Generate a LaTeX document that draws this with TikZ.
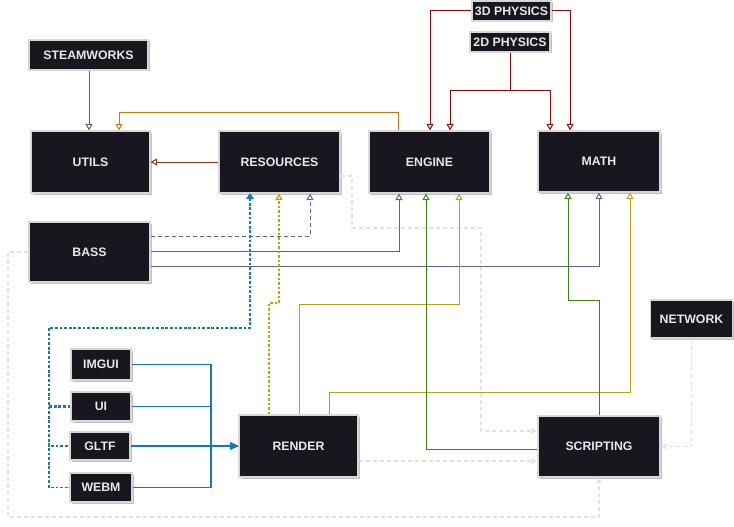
\documentclass[tikz,border=0pt]{standalone}
\usepackage{fontspec}
\setmainfont{Liberation Sans}
\usetikzlibrary{arrows.meta,shadows}
\definecolor{nodefill}{RGB}{24,22,30}
\definecolor{nodetext}{RGB}{232,232,232}
\definecolor{nodeedge}{RGB}{215,215,215}
\definecolor{cSteam}{RGB}{75,112,62}
\definecolor{cOrange}{RGB}{200,120,20}
\definecolor{cBrown}{RGB}{140,55,25}
\definecolor{cRed}{RGB}{140,12,12}
\definecolor{cPurple}{RGB}{100,95,150}
\definecolor{cYellow}{RGB}{190,160,20}
\definecolor{cGreen}{RGB}{60,130,12}
\definecolor{cBlue}{RGB}{20,120,185}
\definecolor{cGrey}{RGB}{226,226,226}
\tikzset{
  box/.style={draw=nodeedge, line width=1.2pt, fill=nodefill, text=nodetext,
    font=\bfseries\fontsize{12.3}{14}\selectfont, inner sep=0pt,
    drop shadow={shadow xshift=1.5pt, shadow yshift=-1.5pt, fill=gray!80, opacity=0.6}},
  conn/.style={line width=1pt, -{Triangle[open, length=6.5pt, width=7pt]}},
  bluesolid/.style={line width=1.3pt, draw=cBlue, -{Triangle[length=8pt, width=7pt, fill=cBlue]}},
  bluedash/.style={line width=2.2pt, draw=cBlue, dash pattern=on 2.8pt off 1.8pt, {Triangle[length=5pt, width=7pt, fill=cBlue]}-},
  greydash/.style={line width=1.2pt, draw=cGrey, dash pattern=on 4pt off 3pt, -{Stealth[length=7pt, width=6pt]}}
}
\begin{document}
\begin{tikzpicture}[x=1pt,y=-1pt]
\fill[white] (0,0) rectangle (734,527);
\useasboundingbox (0,0) rectangle (734,527);

% nodes
\node[box, minimum width=119pt, minimum height=30pt] (steam) at (88.5,55) {STEAMWORKS};
\node[box, minimum width=119pt, minimum height=62pt] (utils) at (90.5,162) {UTILS};
\node[box, minimum width=121pt, minimum height=62pt] (res) at (279.5,162) {RESOURCES};
\node[box, minimum width=121pt, minimum height=62pt] (engine) at (429.5,162) {ENGINE};
\node[box, minimum width=122pt, minimum height=61pt] (math) at (599,161.5) {MATH};
\node[box, minimum width=79pt, minimum height=20pt] (p3d) at (511.5,11) {3D PHYSICS};
\node[box, minimum width=80pt, minimum height=20pt] (p2d) at (510,42) {2D PHYSICS};
\node[box, minimum width=121pt, minimum height=60pt] (bass) at (89.5,252) {BASS};
\node[box, minimum width=82pt, minimum height=38pt] (network) at (691.5,319) {NETWORK};
\node[box, minimum width=60pt, minimum height=31pt] (imgui) at (101,364.5) {IMGUI};
\node[box, minimum width=60pt, minimum height=29pt] (ui) at (101,406.5) {UI};
\node[box, minimum width=60pt, minimum height=28pt] (gltf) at (100,446) {GLTF};
\node[box, minimum width=62pt, minimum height=29pt] (webm) at (101,487.5) {WEBM};
\node[box, minimum width=119pt, minimum height=62pt] (render) at (298.5,446) {RENDER};
\node[box, minimum width=122pt, minimum height=61pt] (scripting) at (599,446.5) {SCRIPTING};

% light grey dashed connectors
\draw[greydash] (bass.west) -| (8,517) -| (scripting.south);
\draw[greydash] (res.east |- 0,176) -| (352,228) -| (481,431) -- (scripting.west |- 0,431);
\draw[greydash] (render.east |- 0,461) -- (scripting.west |- 0,461);
\draw[greydash] (network.south) |- (scripting.east);

% STEAMWORKS -> UTILS
\draw[conn, cSteam] (89,0 |- steam.south) -- (89,0 |- utils.north);
% ENGINE -> UTILS
\draw[conn, cOrange] (398,0 |- engine.north) |- (119,112) -- (119,0 |- utils.north);
% RESOURCES -> UTILS
\draw[conn, cBrown] (res.west) -- (utils.east);
% physics
\draw[conn, cRed] (p3d.west) -| (430,0 |- engine.north);
\draw[conn, cRed] (p3d.east) -| (570,0 |- math.north);
\draw[conn, cRed] (p2d.south) -- ++(0,38) -| (450,0 |- engine.north);
\draw[conn, cRed] (p2d.south) -- ++(0,38) -| (550,0 |- math.north);
% BASS
\draw[conn, cPurple, dash pattern=on 4pt off 3pt] (bass.east |- 0,236) -| (310,0 |- res.south);
\draw[conn, cPurple] (bass.east |- 0,251) -| (399,0 |- engine.south);
\draw[conn, cPurple] (bass.east |- 0,266) -| (599,0 |- math.south);
% RENDER
\draw[conn, cYellow, line width=1.3pt, dash pattern=on 2.5pt off 2pt] (269,0 |- render.north) |- (279,303) -- (279,0 |- res.south);
\draw[conn, cYellow] (299,0 |- render.north) |- (459,304) -- (459,0 |- engine.south);
\draw[conn, cYellow] (329,0 |- render.north) |- (630,392) -- (630,0 |- math.south);
% SCRIPTING
\draw[conn, cGreen] (scripting.west |- 0,449) -| (426,0 |- engine.south);
\draw[conn, cGreen] (599,0 |- scripting.north) |- (568,300) -- (568,0 |- math.south);
% libs -> RENDER
\draw[bluesolid] (imgui.east) -| (211,0 |- render.west) -- (render.west);
\draw[bluesolid] (ui.east) -| (211,0 |- render.west) -- (render.west);
\draw[bluesolid] (gltf.east) -- (render.west);
\draw[bluesolid] (webm.east) -| (211,0 |- render.west) -- (render.west);
% libs -> RESOURCES (drawn from the arrow end so the dashes line up)
\draw[bluedash] (250,0 |- res.south) |- (49,328) |- (ui.west);
\draw[bluedash, line width=1.4pt] (250,0 |- res.south) |- (49,328) |- (gltf.west);
\draw[bluedash, line width=1.4pt] (250,0 |- res.south) |- (49,328) |- (webm.west);
\end{tikzpicture}
\end{document}
